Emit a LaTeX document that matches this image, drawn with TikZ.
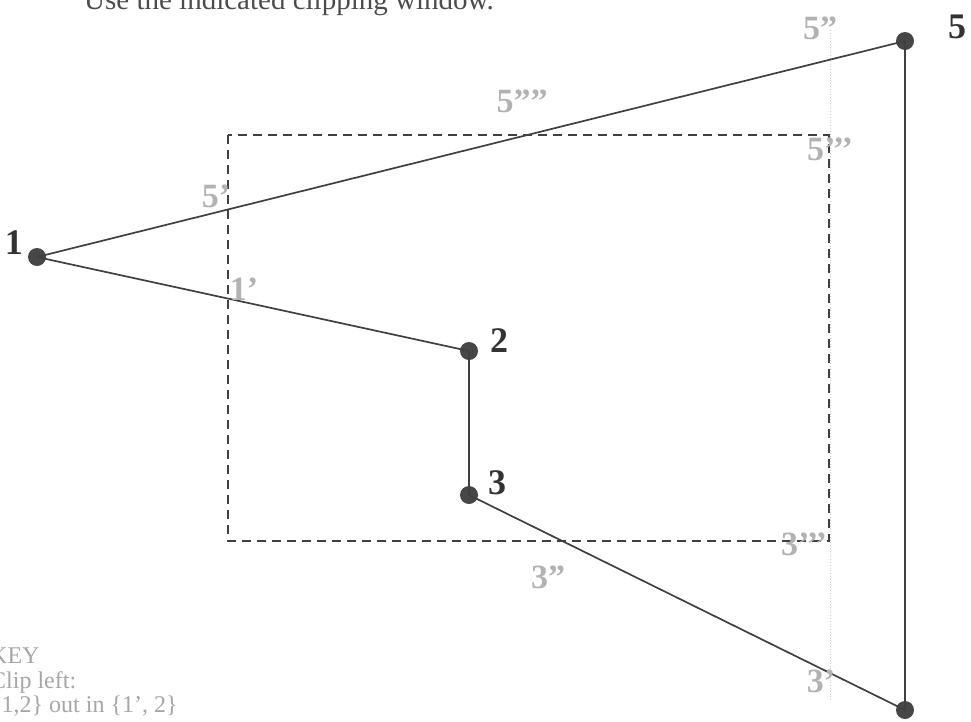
\documentclass[tikz,border=0pt]{standalone}
\usepackage{fontspec}
\setmainfont{Liberation Serif}
\usetikzlibrary{positioning}

\begin{document}
\begin{tikzpicture}[
  x=1pt, y=-1pt,
  vertex/.style={circle, fill=black!72, inner sep=0pt, minimum size=18pt},
  vlabel/.style={font=\fontsize{36}{36}\selectfont\bfseries, text=black!80, inner sep=0pt},
  clabel/.style={font=\fontsize{34}{34}\selectfont\bfseries, text=black!30, inner sep=0pt},
  edge/.style={draw=black!75, line width=1.7pt},
  window/.style={draw=black!75, line width=1.7pt, dash pattern=on 9pt off 6pt},
  guide/.style={draw=black!20, line width=0.8pt, dotted},
  note/.style={font=\fontsize{24}{24.5}\selectfont, text=black!35, align=left, inner sep=0pt, anchor=north west}
]
\useasboundingbox (0,0) rectangle (971,721);

% Titre (coupé en haut)
\node[font=\fontsize{29}{29}\selectfont, text=black!70, anchor=base west, inner sep=0pt] (title) at (84,9) {Use the indicated clipping window.};

% Fenêtre de découpage
\coordinate (wtl) at (228,135);
\coordinate (wbr) at (829,541);
\draw[window] (wtl) rectangle (wbr);

% Ligne de guide (bord droit prolongé)
\coordinate (gtop) at (830,30);
\coordinate (gbot) at (830,700);
\draw[guide] (gtop) -- (gbot);

% Sommets du polygone
\node[vertex] (p1) at (37,257) {};
\node[vertex] (p2) at (469,351) {};
\node[vertex] (p3) at (469,495) {};
\node[vertex] (p4) at (905,710) {};
\node[vertex] (p5) at (905,41) {};

% Arêtes
\draw[edge] (p1.center) -- (p2.center) -- (p3.center) -- (p4.center) -- (p5.center) -- (p1.center);

% Étiquettes des sommets
\node[vlabel] (l1) at (14,243) {1};
\node[vlabel] (l2) at (499,341) {2};
\node[vlabel] (l3) at (497,483) {3};
\node[vlabel] (l5) at (957,27) {5};

% Points d'intersection (gris)
\node[clabel] (i5a) at (216,196) {5’};
\node[clabel] (i1a) at (244,289) {1’};
\node[clabel] (i5d) at (522,101) {5””};
\node[clabel] (i5c) at (830,149) {5’’’};
\node[clabel] (i5b) at (820,28) {5”};
\node[clabel] (i3b) at (548,577) {3”};
\node[clabel] (i3c) at (804,544) {3’’’};
\node[clabel] (i3a) at (821,681) {3’};

% Légende (coupée à gauche et en bas)
\node[note] (key) at (-10,648) {KEY\\Clip left:\\\{1,2\} out in \{1’, 2\}};
\end{tikzpicture}
\end{document}
